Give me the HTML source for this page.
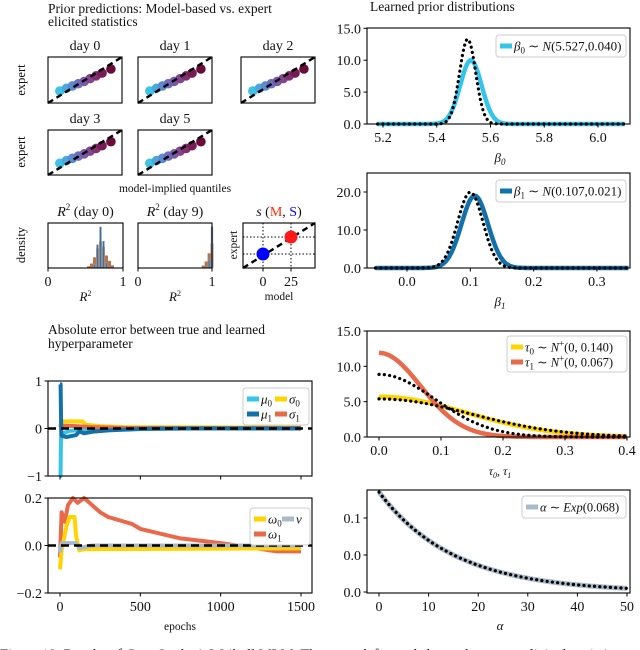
<!DOCTYPE html>
<html><head><meta charset="utf-8">
<style>
html,body{margin:0;padding:0;background:#fff;}
svg{display:block;font-family:"Liberation Serif",serif;}
</style></head>
<body>
<svg id="fig" width="640" height="650" viewBox="0 0 640 650" xmlns="http://www.w3.org/2000/svg"></svg>
<script>
// ---------- data ----------
const dayLabels = ["day 0","day 1","day 2","day 3","day 5"];
const qModel = [0.16,0.25,0.33,0.41,0.49,0.57,0.65,0.73,0.85];
const qExpert = [0.26,0.32,0.37,0.42,0.47,0.53,0.59,0.65,0.74];
const qColors = ["#3cc3e6","#4aa8dc","#5a8ccf","#6a70bd","#7a5aa8","#83458e","#822f72","#761c55","#6a0c3a"];
const hist0Bins = [0.52,0.56,0.6,0.64,0.68,0.72,0.76,0.8,0.84];
const hist0Orange = [2,5,12,22,30,24,14,8,3];
const hist0Blue = [0,0,4,26,46,30,6,0,0];
const hist9Bins = [0.86,0.9,0.94,0.98];
const hist9Orange = [3,8,18,30];
const hist9Blue = [0,2,10,50];
const sModel = [0,25];
const sExpert = [2,25];
const beta0Learned = [5.527,0.040];
const beta0True = [5.515,0.030];
const beta1Learned = [0.107,0.021];
const beta1True = [0.100,0.020];
const tauLearned = [0.140,0.067];
const tauTrue = [0.148,0.090];
const alphaStart = 0.135, alphaRate = 0.066;
const epMu0 = [[0,-1],[3,-1],[6,-0.2],[20,-0.1],[60,-0.05],[150,-0.02],[300,0],[1500,0]];
const valMu1 = [[0,0.93],[4,0.93],[8,-0.15],[40,-0.18],[100,-0.14],[120,-0.06],[150,-0.1],[200,-0.07],[300,-0.04],[500,-0.01],[800,0],[1500,0]];
const valSig0 = [[0,0.05],[10,0.15],[140,0.15],[160,0.08],[250,0.05],[400,0.03],[1500,0.02]];
const valSig1 = [[0,0.02],[10,0.06],[100,0.05],[200,0.03],[400,0.01],[1500,0.01]];
const valOm1 = [[0,-0.05],[10,0.14],[30,0.1],[50,0.17],[80,0.2],[110,0.18],[150,0.2],[200,0.17],[250,0.14],[300,0.12],[450,0.09],[500,0.07],[750,0.03],[1000,0.01],[1100,0],[1350,-0.025],[1500,-0.025]];
const valOm0 = [[0,-0.1],[10,-0.02],[40,0.08],[60,0.12],[90,0.12],[100,0.04],[120,-0.02],[150,-0.015],[1500,-0.012]];
const valNu = [[0,-0.03],[10,0.01],[100,0.01],[120,-0.01],[200,0],[1500,0]];

// ---------- helpers ----------
const NS="http://www.w3.org/2000/svg";
const svg=document.getElementById("fig");
function el(tag,attrs,parent){const e=document.createElementNS(NS,tag);for(const k in attrs)e.setAttribute(k,attrs[k]);(parent||svg).appendChild(e);return e;}
function txt(x,y,s,size,anchor,parent,extra){const t=el("text",Object.assign({x:x,y:y,"font-size":size,"text-anchor":anchor||"middle",fill:"#111"},extra||{}),parent);t.textContent=s;return t;}
function box(x0,y0,x1,y1,name){const r=el("rect",{x:x0,y:y0,width:x1-x0,height:y1-y0,fill:"none",stroke:"#000","stroke-width":1.1});return r;}
function pathFrom(pts){return pts.map((p,i)=>(i?"L":"M")+p[0].toFixed(1)+","+p[1].toFixed(1)).join(" ");}
function npdf(x,m,s){return Math.exp(-0.5*((x-m)/s)**2)/(s*Math.sqrt(2*Math.PI));}
function hnpdf(x,s){return 2*npdf(x,0,s);}
function xtick(x,y,label,size){el("line",{x1:x,y1:y,x2:x,y2:y+3.5,stroke:"#000"});if(label!==null){const t=txt(x,y+18,label,size||14);}}
function ytick(x,y,label){el("line",{x1:x,y1:y,x2:x-3.5,y2:y,stroke:"#000"});const t=txt(x-6,y+5,label,14,"end");}

// ---------- titles ----------
let t;
t=txt(48,13,"Prior predictions: Model-based vs. expert",13.5,"start");
t=txt(48,26,"elicited statistics",13.5,"start");
t=txt(370,11,"Learned prior distributions",13.5,"start");
t=txt(48,334,"Absolute error between true and learned",13.5,"start");
t=txt(48,348,"hyperparameter",13.5,"start");

// ---------- quantile panels ----------
const qBoxes=[[48,57,122,103],[138,57,212,103],[241,57,315,103],[48,130,122,175],[138,130,212,175]];
qBoxes.forEach((b,i)=>{
  const [x0,y0,x1,y1]=b;const w=x1-x0,h=y1-y0;
  const g=el("g",{});
  txt((x0+x1)/2,y0-7,dayLabels[i],14,"middle",g);
  qModel.forEach((m,j)=>{const c=el("circle",{cx:x0+m*w,cy:y1-qExpert[j]*h,r:4.8,fill:qColors[j]},g);});
  el("line",{x1:x0,y1:y1,x2:x1,y2:y0,stroke:"#000","stroke-width":2.4,"stroke-dasharray":"6,4"},g);
  el("rect",{x:x0,y:y0,width:w,height:h,fill:"none",stroke:"#000","stroke-width":1.1},g);
});
t=txt(25,80,"expert",12.5,"middle",null,{transform:"rotate(-90 25 80)"});
t=txt(25,152,"expert",12.5,"middle",null,{transform:"rotate(-90 25 152)"});
t=txt(175,192,"model-implied quantiles",11.5);

// ---------- histograms ----------
function hist(x0,y0,x1,y1,bins,orange,blue,title,name){
  const g=el("g",{});
  const w=x1-x0,h=y1-y0;const mx=Math.max(...orange,...blue);const bw=0.04*w;
  bins.forEach((b,i)=>{
    const ho=orange[i]/mx*(h-4);const r=el("rect",{x:x0+b*w,y:y1-ho,width:bw,height:ho,fill:"#b0663a",opacity:0.9},g);
    const hb=blue[i]/mx*(h-4);const r2=el("rect",{x:x0+b*w+bw*0.2,y:y1-hb,width:bw*0.6,height:hb,fill:"#3f6f98",stroke:"#8aa0b4","stroke-width":0.6},g);
  });
  el("rect",{x:x0,y:y0,width:w,height:h,fill:"none",stroke:"#000","stroke-width":1.1},g);
  const tt=el("text",{x:(x0+x1)/2,y:y0-7,"font-size":14,"text-anchor":"middle",fill:"#111"},g);
  tt.innerHTML='<tspan font-style="italic">R</tspan><tspan font-size="9" dy="-6">2</tspan><tspan dy="6"> '+title+'</tspan>';
  xtick(x0,y1,"0",14);xtick(x1,y1,"1",14);
  const xl=el("text",{x:(x0+x1)/2,y:y1+33,"font-size":13,"text-anchor":"middle",fill:"#111"},g);
  xl.innerHTML='<tspan font-style="italic">R</tspan><tspan font-size="8" dy="-5">2</tspan>';
}
hist(48,223,123,268,hist0Bins,hist0Orange,hist0Blue,"(day 0)","histogram-r2-day0");
hist(138,223,212,268,hist9Bins,hist9Orange,hist9Blue,"(day 9)","histogram-r2-day9");
t=txt(25,245,"density",12.5,"middle",null,{transform:"rotate(-90 25 245)"});

// s scatter
(function(){
  const x0=243,y0=223,x1=315,y1=268;
  const sx=v=>263+v*(291-263)/25, sy=v=>254-(v-2)*(254-237)/23;
  const g=el("g",{});
  sModel.forEach((m,i)=>{el("line",{x1:sx(m),y1:y0,x2:sx(m),y2:y1,stroke:"#000","stroke-dasharray":"1.5,2"},g);el("line",{x1:x0,y1:sy(sExpert[i]),x2:x1,y2:sy(sExpert[i]),stroke:"#000","stroke-dasharray":"1.5,2"},g);});
  el("line",{x1:x0,y1:y1,x2:x1,y2:y0,stroke:"#000","stroke-width":2.4,"stroke-dasharray":"6,4"},g);
  const cols=["#0000ff","#ff1a1a"];
  sModel.forEach((m,i)=>{const c=el("circle",{cx:sx(m),cy:sy(sExpert[i]),r:6.5,fill:cols[i]},g);});
  el("rect",{x:x0,y:y0,width:x1-x0,height:y1-y0,fill:"none",stroke:"#000","stroke-width":1.1},g);
  xtick(sx(0),y1,"0",14);xtick(sx(25),y1,"25",14);
  const tt=el("text",{x:279,y:216,"font-size":14,"text-anchor":"middle",fill:"#111"},g);
  tt.innerHTML='<tspan font-style="italic">s</tspan> (<tspan fill="#ff2a00">M</tspan>, <tspan fill="#0000ff">S</tspan>)';
  txt(279,300,"model",11.5,"middle",g);
  txt(237,245,"expert",11.5,"middle",g,{transform:"rotate(-90 237 245)"});
})();

// ---------- right density panels ----------
function legend(x,y,w,h,items,name){
  const g=el("g",{});
  el("rect",{x:x,y:y,width:w,height:h,rx:3,fill:"#fff",stroke:"#ccc","stroke-width":1},g);
  items.forEach((it,i)=>{
    const yy=y+11+i*15;
    el("line",{x1:x+4,y1:yy,x2:x+16,y2:yy,stroke:it.c,"stroke-width":5},g);
    const tt=el("text",{x:x+18,y:yy+4.5,"font-size":it.fs||13,fill:"#111"},g);tt.innerHTML=it.h;
    if(it.c2){el("line",{x1:x+it.off,y1:yy,x2:x+it.off+12,y2:yy,stroke:it.c2,"stroke-width":5},g);const t2=el("text",{x:x+it.off+14,y:yy+4.5,"font-size":13,fill:"#111"},g);t2.innerHTML=it.h2;}
  });
}
function curve(fn,a,b,sx,sy,color,width,dash,name){
  const pts=[];for(let i=0;i<=200;i++){const v=a+(b-a)*i/200;pts.push([sx(v),sy(fn(v))]);}
  const p=el("path",{d:pathFrom(pts),fill:"none",stroke:color,"stroke-width":width,"stroke-linecap":dash?"round":"butt"});
  if(dash)p.setAttribute("stroke-dasharray",dash);
  
}
const RX0=367,RX1=630;
// beta0
(function(){
  const sx=v=>383+(v-5.2)*268.75, sy=v=>124-v*(124-28.3)/15;
  curve(v=>npdf(v,beta0Learned[0],beta0Learned[1]),5.18,6.1,sx,sy,"#36c5ea",4.5,null,"beta0-learned-curve");
  curve(v=>npdf(v,beta0True[0],beta0True[1]),5.18,6.1,sx,sy,"#000",3.2,"0.1,5.2","beta0-true-curve");
  box(RX0,28,RX1,124,"beta0-axes");
  [0,5,10,15].forEach(v=>ytick(RX0,sy(v),v.toFixed(1)));
  [5.2,5.4,5.6,5.8,6.0].forEach(v=>xtick(sx(v),124,v.toFixed(1)));
  const xl=el("text",{x:500,y:162,"font-size":13,"text-anchor":"middle","font-style":"italic",fill:"#111"});xl.innerHTML='β<tspan font-size="9" dy="3">0</tspan>';
  legend(496,35,130,22,[{c:"#36c5ea",h:'<tspan font-style="italic">β</tspan><tspan font-size="9" dy="3">0</tspan><tspan dy="-3"> ∼ </tspan><tspan font-style="italic">N</tspan>(5.527,0.040)'}],"beta0-legend");
})();
// beta1
(function(){
  const sx=v=>407+v*633, sy=v=>268-v*(268-192)/20;
  curve(v=>npdf(v,beta1Learned[0],beta1Learned[1]),-0.05,0.35,sx,sy,"#1271ab",4.5,null,"beta1-learned-curve");
  curve(v=>npdf(v,beta1True[0],beta1True[1]),-0.05,0.35,sx,sy,"#000",3.2,"0.1,5.2","beta1-true-curve");
  box(RX0,173,RX1,268,"beta1-axes");
  [0,10,20].forEach(v=>ytick(RX0,sy(v),v.toFixed(1)));
  [0,0.1,0.2,0.3].forEach(v=>xtick(sx(v),268,v.toFixed(1)));
  const xl=el("text",{x:500,y:306,"font-size":13,"text-anchor":"middle","font-style":"italic",fill:"#111"});xl.innerHTML='β<tspan font-size="9" dy="3">1</tspan>';
  legend(496,180,130,22,[{c:"#1271ab",h:'<tspan font-style="italic">β</tspan><tspan font-size="9" dy="3">1</tspan><tspan dy="-3"> ∼ </tspan><tspan font-style="italic">N</tspan>(0.107,0.021)'}],"beta1-legend");
})();
// tau
(function(){
  const sx=v=>379+v*620, sy=v=>437-v*(437-331)/15;
  curve(v=>hnpdf(v,tauLearned[0]),0,0.4,sx,sy,"#ffd400",4.5,null,"tau0-learned-curve");
  curve(v=>hnpdf(v,tauLearned[1]),0,0.4,sx,sy,"#e9694b",4.5,null,"tau1-learned-curve");
  curve(v=>hnpdf(v,tauTrue[0]),0,0.4,sx,sy,"#000",3.2,"0.1,5.2","tau0-true-curve");
  curve(v=>hnpdf(v,tauTrue[1]),0,0.4,sx,sy,"#000",3.2,"0.1,5.2","tau1-true-curve");
  box(RX0,331,RX1,437,"tau-axes");
  [0,5,10,15].forEach(v=>ytick(RX0,sy(v),v.toFixed(1)));
  [0,0.1,0.2,0.3,0.4].forEach(v=>xtick(sx(v),437,v.toFixed(1)));
  const xl=el("text",{x:500,y:475,"font-size":12,"text-anchor":"middle","font-style":"italic",fill:"#111"});xl.innerHTML='τ<tspan font-size="8" dy="3">0</tspan><tspan dy="-3">, τ</tspan><tspan font-size="8" dy="3">1</tspan>';
  legend(507,336,120,36,[
    {c:"#ffd400",h:'<tspan font-style="italic">τ</tspan><tspan font-size="9" dy="3">0</tspan><tspan dy="-3"> ∼ </tspan><tspan font-style="italic">N</tspan><tspan font-size="9" dy="-5">+</tspan><tspan dy="5">(0, 0.140)</tspan>',fs:12.5},
    {c:"#e9694b",h:'<tspan font-style="italic">τ</tspan><tspan font-size="9" dy="3">1</tspan><tspan dy="-3"> ∼ </tspan><tspan font-style="italic">N</tspan><tspan font-size="9" dy="-5">+</tspan><tspan dy="5">(0, 0.067)</tspan>',fs:12.5}],"tau-legend");
})();
// alpha
(function(){
  const sx=v=>379+v*4.96, sy=v=>592-v*(592-518)/0.1;
  curve(v=>alphaStart*Math.exp(-alphaRate*v),0,50,sx,sy,"#a8b9c9",5,null,"alpha-learned-curve");
  curve(v=>alphaStart*Math.exp(-alphaRate*v),0,50,sx,sy,"#000",3.2,"0.1,5.2","alpha-true-curve");
  box(RX0,490,RX1,593,"alpha-axes");
  [[0,"0.0"],[0.05,"0.0"],[0.1,"0.1"]].forEach(v=>ytick(RX0,sy(v[0]),v[1]));
  [0,10,20,30,40,50].forEach(v=>xtick(sx(v),593,String(v)));
  t=txt(500,630,"α",13,"middle",null,{"font-style":"italic"});
  legend(522,496,104,22,[{c:"#a8b9c9",h:'<tspan font-style="italic">α</tspan> ∼ <tspan font-style="italic">Exp</tspan>(0.068)',fs:12.5}],"alpha-legend");
})();

// ---------- error panels ----------
const ex=v=>60+v*(301-60)/1500;
function trace(vals,sy,color,name){
  const p=el("path",{d:pathFrom(vals.map(d=>[ex(d[0]),sy(d[1])])),fill:"none",stroke:color,"stroke-width":4,"stroke-linejoin":"round"});
  
}
(function(){
  const sy=v=>428.5-v*47.5;
  trace(epMu0,sy,"#36c5ea","mu0-trace");
  trace(valSig0,sy,"#ffd400","sigma0-trace");
  trace(valSig1,sy,"#e9694b","sigma1-trace");
  trace(valMu1,sy,"#1271ab","mu1-trace");
  el("line",{x1:48,y1:sy(0),x2:312,y2:sy(0),stroke:"#000","stroke-width":2.6,"stroke-dasharray":"8,5"});
  box(48,381,312,476,"error-top-axes");
  [[1,"1"],[0,"0"],[-1,"−1"]].forEach(v=>ytick(48,sy(v[0]),v[1]));
  [0,500,1000,1500].forEach(v=>xtick(ex(v),476,null));
  legend(243,388,66,37,[
    {c:"#36c5ea",h:'<tspan font-style="italic">μ</tspan><tspan font-size="9" dy="3">0</tspan>',c2:"#ffd400",off:32,h2:'<tspan font-style="italic">σ</tspan><tspan font-size="9" dy="3">0</tspan>'},
    {c:"#1271ab",h:'<tspan font-style="italic">μ</tspan><tspan font-size="9" dy="3">1</tspan>',c2:"#e9694b",off:32,h2:'<tspan font-style="italic">σ</tspan><tspan font-size="9" dy="3">1</tspan>'}],"error-top-legend");
})();
(function(){
  const sy=v=>545.5-v*237.5;
  trace(valOm1,sy,"#e9694b","omega1-trace");
  trace(valOm0,sy,"#ffd400","omega0-trace");
  trace(valNu,sy,"#a8b9c9","nu-trace");
  el("line",{x1:48,y1:sy(0),x2:312,y2:sy(0),stroke:"#000","stroke-width":2.6,"stroke-dasharray":"8,5"});
  box(48,498,312,593,"error-bottom-axes");
  [[0.2,"0.2"],[0,"0.0"],[-0.2,"−0.2"]].forEach(v=>ytick(48,sy(v[0]),v[1]));
  [0,500,1000,1500].forEach(v=>xtick(ex(v),593,String(v),14));
  t=txt(180,630,"epochs",11.5);
  legend(250,508,60,37,[
    {c:"#ffd400",h:'<tspan font-style="italic">ω</tspan><tspan font-size="9" dy="3">0</tspan>',c2:"#a8b9c9",off:32,h2:'<tspan font-style="italic">ν</tspan>'},
    {c:"#e9694b",h:'<tspan font-style="italic">ω</tspan><tspan font-size="9" dy="3">1</tspan>'}],"error-bottom-legend");
})();

// caption (cut off)
t=txt(0,659,"Figure 18: Results of Case Study 4: Weibull MLM. The upper left panel shows the expert-elicited statistics",14.5,"start");


</script>
</body></html>
